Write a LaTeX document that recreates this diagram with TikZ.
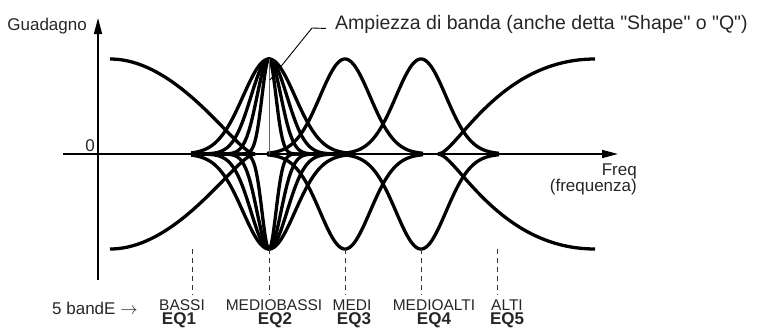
\documentclass[tikz,border=0pt]{standalone}
\usepackage{fontspec}
\setmainfont{Liberation Sans}
\usetikzlibrary{arrows.meta}

\begin{document}
\begin{tikzpicture}[x=1pt, y=-1pt,
    declare function={bell(\x,\c,\w)=95*exp(-(\x-\c)*(\x-\c)/\w);},
    curve/.style={line width=3.3pt, line join=round, samples=121, smooth},
    axis/.style={line width=1.5pt, -{Triangle[length=16pt,width=8pt]}},
    guide/.style={line width=0.8pt, black!80, dash pattern=on 5pt off 4pt, shorten >=4pt},
    txt/.style={font=\fontsize{17}{20}\selectfont, text=black!85, inner sep=0pt},
    band/.style={font=\fontsize{15.5}{18}\selectfont, text=black!85, inner sep=0pt, anchor=base},
    eq/.style={font=\bfseries\fontsize{17}{20}\selectfont, text=black!85, inner sep=0pt, anchor=base}]
    \useasboundingbox (0,0) rectangle (759,327);

    % axes
    \coordinate (ybot) at (98,280);
    \coordinate (ytop) at (98,18);
    \coordinate (xleft) at (63,154);
    \coordinate (xright) at (618,154);
    \draw[axis] (ybot) -- (ytop);
    \draw[axis] (xleft) -- (xright);

    \node[txt, anchor=base east] (gain) at (87,30) {Guadagno};
    \node[txt, anchor=base] (zero) at (90,151.7) {0};
    \node[txt, anchor=base east] (freq) at (637,175) {Freq};
    \node[txt, anchor=base east] (freqname) at (637,191) {(frequenza)};

    % shelves
    \draw[curve] (110,59) .. controls (180,59) and (237,154) .. (255,154);
    \draw[curve] (110,249) .. controls (180,249) and (237,154) .. (255,154);
    \draw[curve] (595,59) .. controls (498,59) and (456,154) .. (438,154);
    \draw[curve] (595,249) .. controls (498,249) and (456,154) .. (438,154);

    % EQ2 with several widths
    \draw[curve] plot[domain=191:347] (\x,{154-bell(\x,269,1352)});
    \draw[curve] plot[domain=191:347] (\x,{154-bell(\x,269,648)});
    \draw[curve] plot[domain=191:347] (\x,{154-bell(\x,269,288)});
    \draw[curve] plot[domain=191:347] (\x,{154-bell(\x,269,98)});
    \draw[curve] plot[domain=191:347] (\x,{154+bell(\x,269,1352)});
    \draw[curve] plot[domain=191:347] (\x,{154+bell(\x,269,648)});
    \draw[curve] plot[domain=191:347] (\x,{154+bell(\x,269,288)});
    \draw[curve] plot[domain=191:347] (\x,{154+bell(\x,269,98)});

    % EQ3 and EQ4
    \draw[curve] plot[domain=267:423] (\x,{154-bell(\x,345,1250)});
    \draw[curve] plot[domain=267:423] (\x,{154+bell(\x,345,1250)});
    \draw[curve] plot[domain=343:499] (\x,{154-bell(\x,421,1250)});
    \draw[curve] plot[domain=343:499] (\x,{154+bell(\x,421,1250)});

    % bandwidth note
    \coordinate (qtop) at (269,59);
    \coordinate (qbase) at (269,154);
    \draw[line width=1pt, black!60] (qtop) -- (qbase);
    \node[txt, font=\fontsize{19.5}{22}\selectfont, anchor=base west] (width) at (335,29.5) {Ampiezza di banda (anche detta \textquotedbl Shape\textquotedbl{} o \textquotedbl Q\textquotedbl)};
    \coordinate (qknee) at (312,28);
    \coordinate (qtip) at (270,80);
    \draw[line width=0.9pt] ([shift={(-9,4)}]width.west) -- (qknee) -- (qtip);

    % bands
    \node[txt, anchor=base west] (bands) at (52,314) {5 bandE $\rightarrow$};
    \node[band] (bassi) at (182,310) {BASSI};
    \node[eq] (eq1) at (179,324.5) {EQ1};
    \node[band] (mediobassi) at (274,310) {MEDIOBASSI};
    \node[eq] (eq2) at (275,324.5) {EQ2};
    \node[band] (medi) at (352,310) {MEDI};
    \node[eq] (eq3) at (354,324.5) {EQ3};
    \node[band] (medioalti) at (434,310) {MEDIOALTI};
    \node[eq] (eq4) at (434,324.5) {EQ4};
    \node[band] (alti) at (507,310) {ALTI};
    \node[eq] (eq5) at (507,324.5) {EQ5};

    \coordinate (g1) at (192,249);
    \coordinate (g2) at (269,249);
    \coordinate (g3) at (345,249);
    \coordinate (g4) at (421,249);
    \coordinate (g5) at (497,249);
    \draw[guide] (g1) -- (g1 |- bassi.north);
    \draw[guide] (g2) -- (g2 |- mediobassi.north);
    \draw[guide] (g3) -- (g3 |- medi.north);
    \draw[guide] (g4) -- (g4 |- medioalti.north);
    \draw[guide] (g5) -- (g5 |- alti.north);
\end{tikzpicture}
\end{document}
